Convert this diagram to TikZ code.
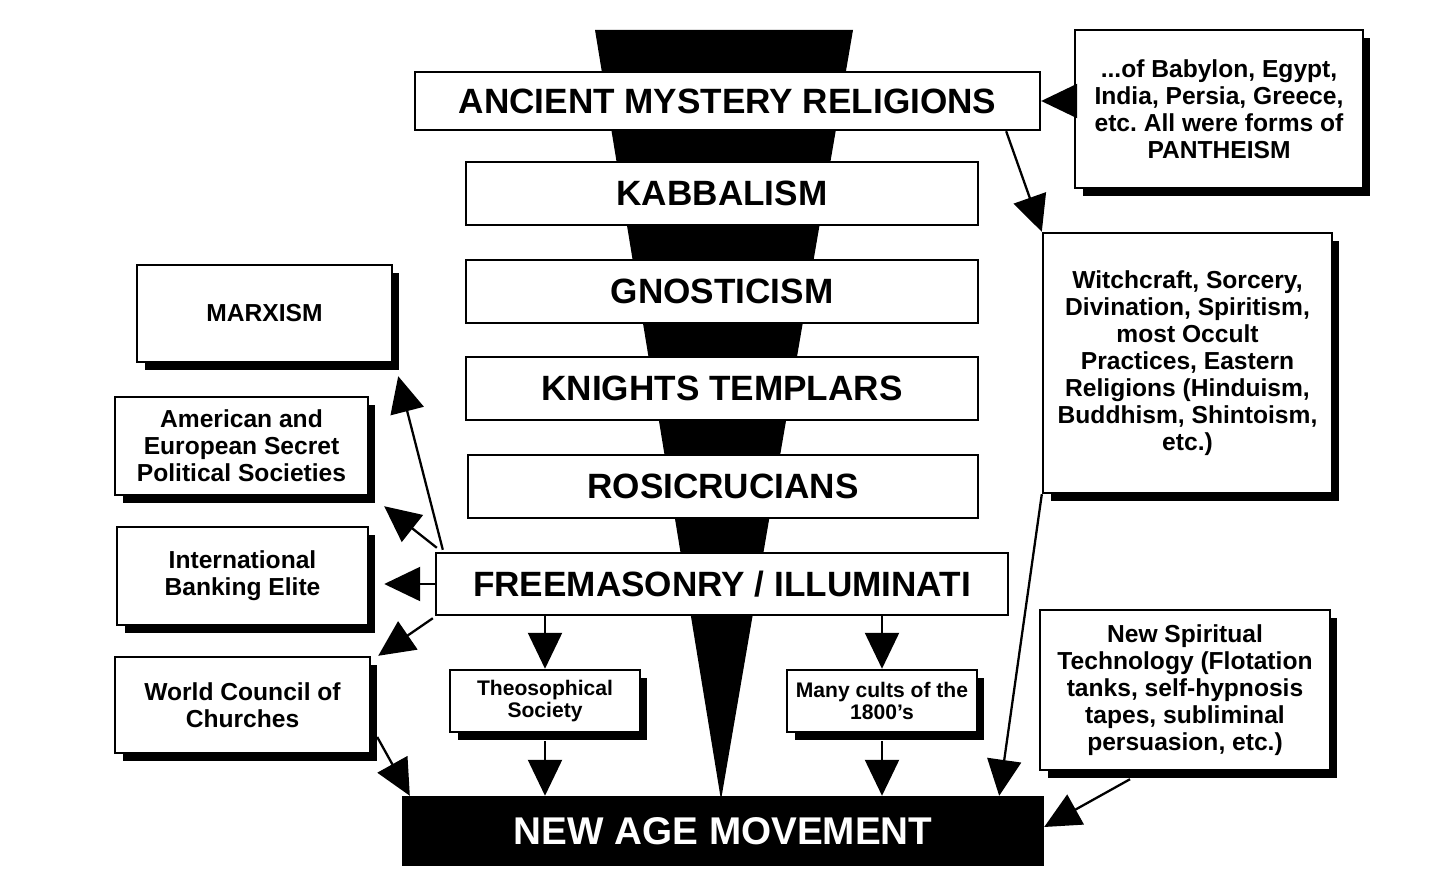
\documentclass[tikz,border=0pt]{standalone}
\usepackage{fontspec}
\setmainfont{Liberation Sans}
\usetikzlibrary{arrows.meta,shadows,calc}
\frenchspacing
\begin{document}
\begin{tikzpicture}[x=0.02cm,y=-0.02cm,
  mainbox/.style={draw, line width=1.4pt, fill=white, inner sep=0pt,
    font=\fontsize{20}{24}\selectfont\bfseries},
  sidebox/.style={draw, line width=1.4pt, fill=white, inner sep=0pt, align=center,
    font=\fontsize{14}{15.3}\selectfont\bfseries,
    drop shadow={shadow xshift=0.15cm, shadow yshift=-0.16cm, fill=black, opacity=1}},
  smallbox/.style={sidebox, font=\fontsize{12}{13}\selectfont\bfseries},
  arr/.style={line width=1.3pt, -{Triangle[length=0.72cm,width=0.68cm]}},
]
\useasboundingbox (0,0) rectangle (1456,895);

% funnel
\fill (595,30) -- (853,30) -- (721,800) -- cycle;

% central column
\node[mainbox, minimum width=12.5cm, minimum height=1.16cm] (anc) at (727.5,101) {ANCIENT MYSTERY RELIGIONS};
\node[mainbox, minimum width=10.24cm, minimum height=1.26cm] (kab) at (722,193.5) {KABBALISM};
\node[mainbox, minimum width=10.24cm, minimum height=1.26cm] (gno) at (722,291.5) {GNOSTICISM};
\node[mainbox, minimum width=10.24cm, minimum height=1.26cm] (kni) at (722,388.5) {KNIGHTS TEMPLARS};
\node[mainbox, minimum width=10.2cm, minimum height=1.26cm] (ros) at (723,486.5) {ROSICRUCIANS};
\node[mainbox, minimum width=11.44cm, minimum height=1.24cm] (fre) at (722,584) {FREEMASONRY / ILLUMINATI};
\node[mainbox, fill=black, text=white, minimum width=12.8cm, minimum height=1.36cm,
  font=\fontsize{22}{26}\selectfont\bfseries] (nam) at (723,831) {NEW AGE MOVEMENT};

% right boxes
\node[sidebox, minimum width=5.76cm, minimum height=3.16cm] (pan) at (1219,109)
  {...of Babylon, Egypt,\\India, Persia, Greece,\\etc. All were forms of\\PANTHEISM};
\node[sidebox, minimum width=5.78cm, minimum height=5.2cm] (wit) at (1187.5,363)
  {Witchcraft, Sorcery,\\Divination, Spiritism,\\most Occult\\Practices, Eastern\\Religions (Hinduism,\\Buddhism, Shintoism,\\etc.)};
\node[sidebox, minimum width=5.8cm, minimum height=3.2cm] (nst) at (1185,690)
  {New Spiritual\\Technology (Flotation\\tanks, self-hypnosis\\tapes, subliminal\\persuasion, etc.)};

% left boxes
\node[sidebox, minimum width=5.1cm, minimum height=1.94cm] (mar) at (264.5,313.5) {MARXISM};
\node[sidebox, minimum width=5.06cm, minimum height=1.96cm] (ame) at (241.5,446)
  {American and\\European Secret\\Political Societies};
\node[sidebox, minimum width=5.02cm, minimum height=1.96cm] (ban) at (242.5,576)
  {International\\Banking Elite};
\node[sidebox, minimum width=5.1cm, minimum height=1.92cm] (wcc) at (242.5,705)
  {World Council of\\Churches};

% small boxes
\node[smallbox, minimum width=3.8cm, minimum height=1.24cm] (the) at (545,701) {Theosophical\\Society};
\node[smallbox, minimum width=3.8cm, minimum height=1.24cm] (cul) at (882,701) {Many cults of the\\1800's};

% connectors
\draw[arr] (pan.west |- anc.east) -- (anc.east);
\draw[arr] ($(anc.south east)+(-35,0)$) -- (wit.north west);
\draw[arr] (wit.south west) -- ($(nam.north east)+(-45,0)$);
\draw[arr] ($(nst.south)+(-55,8)$) -- ($(nam.east)+(0,-4)$);

\draw[arr] ($(fre.north west)+(8,-2)$) -- ($(mar.south east)+(5,13)$);
\draw[arr] ($(fre.north west)+(2,-4)$) -- ($(ame.south east)+(15,10)$);
\draw[arr] (fre.west) -- ($(fre.west -| ban.east)+(15,0)$);
\draw[arr] ($(fre.south west)+(-2,2)$) -- ($(wcc.north east)+(7,0)$);
\draw[arr] ($(wcc.east)+(6,32)$) -- ($(nam.north west)+(8,0)$);

\draw[arr] (fre.south -| the.north) -- (the.north);
\draw[arr] (fre.south -| cul.north) -- (cul.north);
\draw[arr] ($(the.south)+(0,8)$) -- (the.south |- nam.north);
\draw[arr] ($(cul.south)+(0,8)$) -- (cul.south |- nam.north);
\end{tikzpicture}
\end{document}
